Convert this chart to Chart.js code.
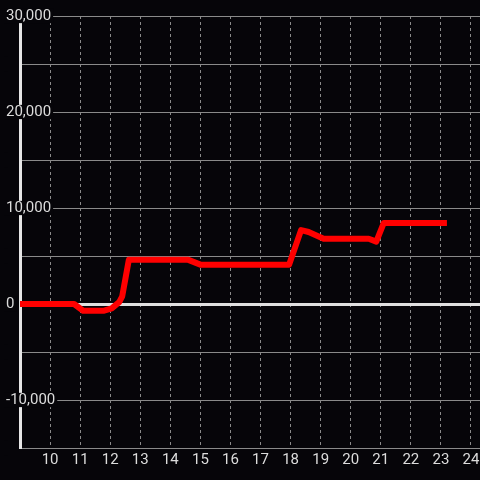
<!DOCTYPE html>
<html>
<head>
<meta charset="utf-8">
<script src="https://cdn.jsdelivr.net/npm/chart.js@4.4.0/dist/chart.umd.min.js"></script>
<style>
    html, body { margin: 0; padding: 0; background: #060509; }
    #wrap { width: 480px; height: 480px; }
</style>
</head>
<body>
<div id="wrap"><canvas id="chart" width="480" height="480"></canvas></div>
<script>
// Series
const xValues = [8.9, 10.8, 11.1, 11.8, 12.05, 12.3, 12.4, 12.62, 14.6, 15.0, 17.95, 18.35, 18.6, 19.1, 20.6, 20.85, 21.1, 23.2];
const yValues = [0, 0, -700, -700, -450, 200, 800, 4600, 4600, 4100, 4100, 7700, 7500, 6800, 6800, 6500, 8450, 8450];

// Axis ticks
const xTicks = [10, 11, 12, 13, 14, 15, 16, 17, 18, 19, 20, 21, 22, 23, 24];
const yLabelTicks = [-10000, 0, 10000, 20000, 30000];

const bg = '#060509';
const gridGray = '#8a8a8a';
const labelGray = '#dcdcdc';

const ctx = document.getElementById('chart');

new Chart(ctx, {
    type: 'line',
    data: {
        datasets: [{
            data: xValues.map((x, i) => ({ x: x, y: yValues[i] })),
            borderColor: '#ff0000',
            borderWidth: 6,
            borderJoinStyle: 'round',
            borderCapStyle: 'butt',
            pointRadius: 0,
            tension: 0,
            fill: false
        }]
    },
    options: {
        responsive: false,
        animation: false,
        layout: {
            padding: { left: 6, top: 16, right: 0, bottom: 0 }
        },
        plugins: {
            legend: { display: false },
            tooltip: { enabled: false }
        },
        scales: {
            x: {
                type: 'linear',
                min: 9,
                max: 24.3,
                afterBuildTicks: (scale) => {
                    scale.ticks = xTicks.map(v => ({ value: v }));
                },
                afterFit: (scale) => {
                    scale.height = 32;
                    scale.paddingLeft = 0;
                    scale.paddingRight = 0;
                },
                grid: {
                    color: gridGray,
                    lineWidth: 1,
                    drawTicks: false
                },
                border: {
                    display: true,
                    color: gridGray,
                    width: 1,
                    dash: [3, 3]
                },
                ticks: {
                    autoSkip: false,
                    maxRotation: 0,
                    padding: 3,
                    color: labelGray,
                    font: { family: 'Roboto', size: 15 }
                }
            },
            y: {
                min: -15000,
                max: 30000,
                afterFit: (scale) => {
                    scale.width = 14;
                },
                grid: {
                    color: (c) => c.tick && c.tick.value === 0 ? '#e0e0e0' : gridGray,
                    lineWidth: (c) => c.tick && c.tick.value === 0 ? 3 : 1,
                    drawTicks: false
                },
                border: {
                    display: true,
                    color: '#e6e6e6',
                    width: 3
                },
                ticks: {
                    stepSize: 5000,
                    mirror: true,
                    crossAlign: 'near',
                    padding: -14,
                    color: labelGray,
                    font: { family: 'Roboto', size: 15, lineHeight: 0.95 },
                    showLabelBackdrop: true,
                    backdropColor: bg,
                    backdropPadding: { top: 0, bottom: 0, left: 2, right: 2 },
                    callback: (value) => yLabelTicks.includes(value) ? value.toLocaleString('en-US') : ''
                }
            }
        }
    }
});
</script>
</body>
</html>
